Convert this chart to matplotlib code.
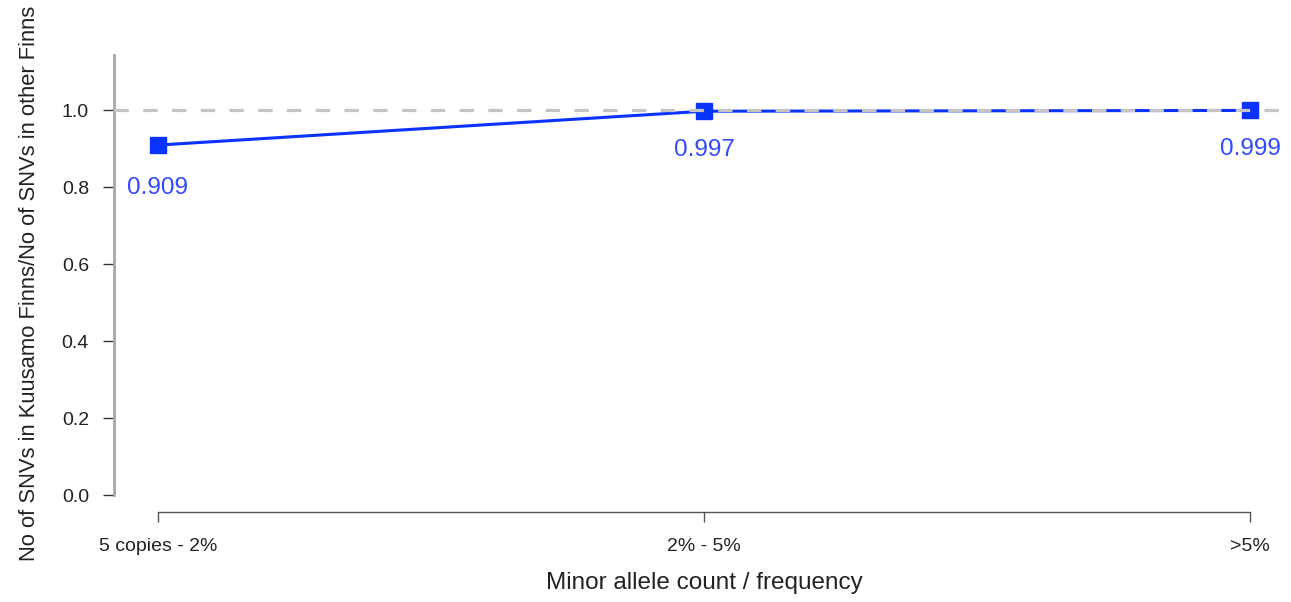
import matplotlib.pyplot as plt

plt.rcParams['font.family'] = ['Liberation Sans', 'DejaVu Sans']

# Data
categories = ['5 copies - 2%', '2% - 5%', '>5%']
ratios = [0.909, 0.997, 0.999]
ratio_labels = ['0.909', '0.997', '0.999']
yticks = [0.0, 0.2, 0.4, 0.6, 0.8, 1.0]

W, H = 1291, 602
fig = plt.figure(figsize=(W / 100, H / 100), dpi=100)
ax = fig.add_axes([114 / W, 1 - 495 / H, 1 - 114 / W, (495 - 55) / H])

x = list(range(1, len(categories) + 1))
line_col = '#0a33ff'
text_col = '#3048ff'

ax.plot(x, ratios, color=line_col, lw=2.2, marker='s', markersize=12, zorder=3)
for xi, yi, lab in zip(x, ratios, ratio_labels):
    off = -31 if xi == 1 else -28
    ax.annotate(lab, (xi, yi), xytext=(0, off), textcoords='offset points',
                ha='center', va='center', fontsize=17.5, color=text_col)

# reference line at 1
ax.axhline(1.0, color='#c4c4c4', lw=2.3, linestyle=(0, (4.5, 4.5)), zorder=4)

ax.set_xlim(1 - 44 / 546, 3 + 41 / 546)
ax.set_ylim(0, 1.143)

ax.spines['top'].set_visible(False)
ax.spines['right'].set_visible(False)
ax.spines['left'].set_color('#a8a8a8')
ax.spines['left'].set_linewidth(2.0)
ax.spines['bottom'].set_position(('outward', 12.3))
ax.spines['bottom'].set_bounds(1, 3)
ax.spines['bottom'].set_color('#555555')
ax.spines['bottom'].set_linewidth(1.0)

ax.set_xticks(x)
ax.set_xticklabels(categories)
ax.set_yticks(yticks)
ax.set_yticklabels(['%.1f' % t for t in yticks])
ax.tick_params(axis='y', length=8, width=1.0, color='#333333', pad=10,
               labelsize=14, labelcolor='#222222')
ax.tick_params(axis='x', length=7.5, width=1.0, color='#555555', pad=11,
               labelsize=14, labelcolor='#222222')

fig.text(704 / W, 1 - 583 / H, 'Minor allele count / frequency',
         ha='center', va='center', fontsize=17.5, color='#222222')
fig.text(30 / W, 1 - 283 / H,
         'No of SNVs in Kuusamo Finns/No of SNVs in other Finns',
         ha='center', va='center', rotation=90, fontsize=15.8, color='#222222')

fig.savefig('out.png', dpi=100)
